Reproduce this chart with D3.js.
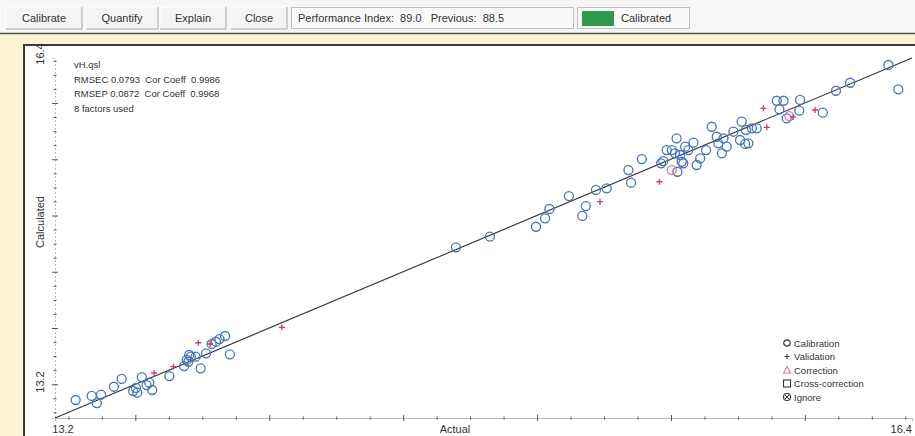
<!DOCTYPE html>
<html>
<head>
<meta charset="utf-8">
<script src="https://cdn.jsdelivr.net/npm/d3@7"></script>
<style>
  body { margin: 0; background: #fcf4d2; }
  svg { display: block; font-family: "Liberation Sans", Arial, sans-serif; }
</style>
</head>
<body>
<svg id="chart"></svg>
<script>
// calibration standards: [actual, calculated]
var calibration = [
  [13.277,13.360],[13.337,13.396],[13.356,13.333],[13.372,13.407],[13.420,13.478],
  [13.449,13.547],[13.492,13.440],[13.507,13.425],[13.502,13.467],[13.524,13.564],
  [13.542,13.493],[13.552,13.514],[13.563,13.449],[13.627,13.573],[13.682,13.662],
  [13.692,13.716],[13.701,13.760],[13.707,13.745],[13.698,13.700],[13.725,13.745],
  [13.744,13.642],[13.764,13.775],[13.785,13.858],[13.801,13.878],[13.814,13.902],
  [13.835,13.929],[13.853,13.766],[14.697,14.717],[14.824,14.812],[14.996,14.900],
  [15.030,14.975],[15.046,15.058],[15.119,15.173],[15.169,14.996],[15.182,15.084],
  [15.220,15.227],[15.260,15.242],[15.341,15.404],[15.351,15.292],[15.391,15.502],
  [15.463,15.464],[15.471,15.484],[15.484,15.582],[15.503,15.582],[15.521,15.686],
  [15.515,15.553],[15.534,15.538],[15.540,15.478],[15.553,15.612],[15.524,15.389],
  [15.546,15.464],[15.565,15.582],[15.584,15.647],[15.609,15.508],[15.596,15.449],
  [15.631,15.582],[15.652,15.789],[15.671,15.700],[15.677,15.642],[15.696,15.686],
  [15.690,15.553],[15.708,15.612],[15.733,15.745],[15.764,15.834],[15.758,15.671],
  [15.777,15.636],[15.789,15.642],[15.780,15.760],[15.802,15.775],[15.820,15.775],
  [15.895,16.020],[15.920,16.020],[15.905,15.944],[15.932,15.864],[15.982,16.027],
  [15.979,15.932],[16.067,15.914],[16.116,16.109],[16.169,16.180],[16.312,16.338],
  [16.349,16.122]
];
var validation = [
  [13.570,13.600],[13.642,13.656],[13.735,13.869],[13.779,13.858],[14.047,14.006],
  [15.235,15.123],[15.457,15.300],[15.845,15.953],[15.858,15.784],[15.956,15.876],
  [16.038,15.938]
];
var correction = [[15.503,15.404],[15.942,15.884]];

var axisRange = [13.2, 16.4];
var axisLabels = ["13.2", "16.4"];
var infoLines = ["vH.qsl", "RMSEC 0.0793  Cor Coeff  0.9986",
                 "RMSEP 0.0872  Cor Coeff  0.9968", "8 factors used"];
var legendItems = ["Calibration", "Validation", "Correction", "Cross-correction", "Ignore"];
var buttons = ["Calibrate", "Quantify", "Explain", "Close"];
var statusText = "Performance Index:  89.0   Previous:  88.5";

function chart(){
    var width = 915,
        height = 436;

    var svg = d3.select("#chart")
        .attr("width", width)
        .attr("height", height);

    // toolbar
    svg.append("rect").attr("x",0).attr("y",0).attr("width",width).attr("height",34)
        .attr("fill","#f6f6f6");
    var bx = [6, 86, 160, 231], bw = [76, 72, 66, 56];
    buttons.forEach(function(b, i) {
        var g = svg.append("g").attr("transform","translate("+bx[i]+",7)");
        g.append("rect").attr("width",bw[i]).attr("height",22).attr("fill","#f4f4f4");
        g.append("path").attr("d","M0,22V0H"+bw[i]).attr("stroke","#fff").attr("fill","none");
        g.append("path").attr("d","M0,22H"+bw[i]+"V0").attr("stroke","#a8a8a8").attr("fill","none");
        g.append("text").attr("x",bw[i]/2).attr("y",15).attr("text-anchor","middle")
            .attr("font-size",11).attr("fill","#333").text(b);
    });
    svg.append("rect").attr("x",291.5).attr("y",7.5).attr("width",282).attr("height",21)
        .attr("fill","#f9f9f9").attr("stroke","#c0c0c0");
    svg.append("text").attr("x",298).attr("y",22).attr("font-size",11).attr("fill","#333")
        .attr("xml:space","preserve").text(statusText);
    svg.append("rect").attr("x",577.5).attr("y",7.5).attr("width",112).attr("height",21)
        .attr("fill","#f9f9f9").attr("stroke","#c0c0c0");
    svg.append("rect").attr("x",582).attr("y",11).attr("width",32).attr("height",15)
        .attr("fill","#2f9a4c");
    svg.append("text").attr("x",621).attr("y",22).attr("font-size",11).attr("fill","#333")
        .text("Calibrated");
    svg.append("line").attr("x1",0).attr("x2",width).attr("y1",33.5).attr("y2",33.5)
        .attr("stroke","#555").attr("stroke-width",1.5);

    // plot frame
    svg.append("rect").attr("x",24).attr("y",45).attr("width",width).attr("height",height)
        .attr("fill","#fff").attr("stroke","#3a3a3a").attr("stroke-width",2);

    var x = d3.scaleLinear().domain(axisRange).range([55, 912]);
    var y = d3.scaleLinear().domain(axisRange).range([418, 58]);

    var ticks = d3.range(106, 132).map(function(k) { return k * 0.125; });
    function isMajor(d) { return Math.abs(d * 2 - Math.round(d * 2)) < 1e-6; }

    var xAxis = svg.append("g").attr("transform","translate(0,418)")
        .call(d3.axisBottom(x).tickValues(ticks).tickSize(3).tickFormat(""));
    xAxis.select(".domain").attr("stroke","#b8b8b8");
    xAxis.selectAll(".tick line").attr("stroke","#555")
        .attr("y1", function(d) { return isMajor(d) ? -3 : -1.5; })
        .attr("y2", function(d) { return isMajor(d) ? 3 : 1.5; });

    var yAxis = svg.append("g").attr("transform","translate(55,0)")
        .call(d3.axisLeft(y).tickValues(ticks).tickSize(3).tickFormat(""));
    yAxis.select(".domain").attr("stroke","#b8b8b8").attr("stroke-dasharray","2,2");
    yAxis.selectAll(".tick line").attr("stroke","#555")
        .attr("x1", function(d) { return isMajor(d) ? -3 : -1.5; })
        .attr("x2", function(d) { return isMajor(d) ? 3 : 1.5; });

    // axis end labels
    svg.append("text").attr("x",x(axisRange[0])+8).attr("y",433).attr("text-anchor","middle")
        .attr("font-size",11).attr("fill","#333").text(axisLabels[0]);
    svg.append("text").attr("x",x(axisRange[1])).attr("y",433).attr("text-anchor","end")
        .attr("font-size",11).attr("fill","#333").text(axisLabels[1]);
    svg.append("text").attr("transform","translate(44,"+(y(axisRange[0])-36)+") rotate(-90)")
        .attr("text-anchor","middle").attr("font-size",11).attr("fill","#333").text(axisLabels[0]);
    svg.append("text").attr("transform","translate(44,"+(y(axisRange[1])-4)+") rotate(-90)")
        .attr("text-anchor","middle").attr("font-size",11).attr("fill","#333").text(axisLabels[1]);

    svg.append("text").attr("x",455).attr("y",433).attr("text-anchor","middle")
        .attr("font-size",11).attr("fill","#333").text("Actual");
    svg.append("text").attr("transform","translate(44,222) rotate(-90)")
        .attr("text-anchor","middle").attr("font-size",11).attr("fill","#333").text("Calculated");

    // info block
    svg.selectAll(".info").data(infoLines).enter().append("text")
        .attr("x",74).attr("y",function(d,i){ return 68 + i*14.5; })
        .attr("font-size",9.5).attr("fill","#333").attr("xml:space","preserve").text(function(d){ return d; });

    // ideal line
    svg.append("line")
        .attr("x1",x(axisRange[0])).attr("y1",y(axisRange[0]))
        .attr("x2",x(axisRange[1])).attr("y2",y(axisRange[1]))
        .attr("stroke","#333").attr("stroke-width",1.1);

    svg.selectAll(".cal").data(calibration).enter().append("circle")
        .attr("cx",function(d){ return x(d[0]); }).attr("cy",function(d){ return y(d[1]); })
        .attr("r",4.5).attr("fill","none").attr("stroke","#4576b5").attr("stroke-width",1.3);

    svg.selectAll(".cor").data(correction).enter().append("circle")
        .attr("cx",function(d){ return x(d[0]); }).attr("cy",function(d){ return y(d[1]); })
        .attr("r",4.5).attr("fill","none").attr("stroke","#d9789a").attr("stroke-width",1.3);

    svg.selectAll(".val").data(validation).enter().append("path")
        .attr("transform",function(d){ return "translate("+x(d[0])+","+y(d[1])+")"; })
        .attr("d","M-3,0H3M0,-3V3").attr("stroke","#c8405a").attr("stroke-width",1.3);

    // legend
    var leg = svg.selectAll(".leg").data(legendItems).enter().append("g")
        .attr("transform",function(d,i){ return "translate(787,"+(343+i*13.5)+")"; });
    leg.append("text").attr("x",7).attr("y",3.5).attr("font-size",9.5).attr("fill","#334")
        .text(function(d){ return d; });
    var l0 = d3.select(leg.nodes()[0]);
    l0.append("circle").attr("r",3.2).attr("fill","none").attr("stroke","#333a55").attr("stroke-width",1.2);
    d3.select(leg.nodes()[1]).append("path").attr("d","M-2.5,0H2.5M0,-2.5V2.5")
        .attr("stroke","#333").attr("stroke-width",1);
    d3.select(leg.nodes()[2]).append("path").attr("d","M0,-3.5L3.5,3L-3.5,3Z")
        .attr("fill","none").attr("stroke","#d9789a").attr("stroke-width",1.1);
    d3.select(leg.nodes()[3]).append("rect").attr("x",-3.5).attr("y",-3.5).attr("width",7).attr("height",7)
        .attr("fill","none").attr("stroke","#333").attr("stroke-width",1.1);
    var l4 = d3.select(leg.nodes()[4]);
    l4.append("circle").attr("r",3.5).attr("fill","none").attr("stroke","#333").attr("stroke-width",1.1);
    l4.append("path").attr("d","M-2.2,-2.2L2.2,2.2M-2.2,2.2L2.2,-2.2").attr("stroke","#333");
}

chart();
</script>
</body>
</html>
